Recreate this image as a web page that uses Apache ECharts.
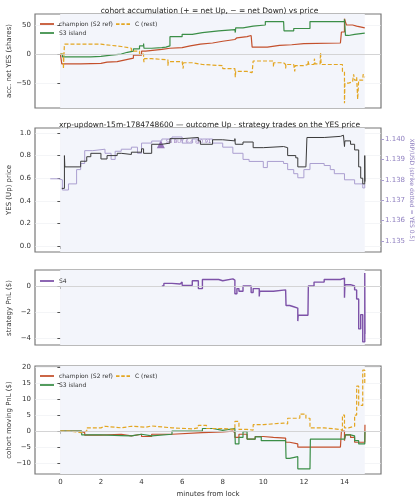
<!DOCTYPE html>
<html><head><meta charset="utf-8">
<script src="https://cdn.jsdelivr.net/npm/echarts@6/dist/echarts.min.js"></script>
<style>html,body{margin:0;padding:0;background:#fff}#c{width:419px;height:500px}</style>
</head><body><div id="c"></div>
<script>
// ---- data (x = minutes from lock) ----
const accChampion=[[0,0],[0.07,-17],[1,-16],[2,-14],[2.3,-13],[2.8,-10],[3.2,-7],[3.6,-2],[4.0,5],[4.2,8],[5,10],[5.4,11],[6,14],[6.4,17],[6.9,19],[7.5,22],[8,25],[8.6,28],[8.7,30],[9.2,32],[9.4,33],[9.45,12],[9.8,12],[10.2,15],[10.8,16],[11.4,18],[12,19],[13.8,19],[13.85,38],[14,61],[14.05,55],[14.1,50],[14.4,48],[14.6,45],[15,45]];
const accS3=[[0,0],[0.1,-5],[1.5,-4],[2,-2],[2.5,0],[3,3],[3.3,5],[3.6,9],[3.9,14],[4.1,18],[4.12,10],[4.5,11],[5,12],[5.2,14],[5.4,30],[6,34],[6.5,37],[7,40],[7.8,42],[8.6,44],[8.62,37],[8.64,45],[9,48],[9.5,50],[10.1,56],[11,56],[11.02,40],[11.5,44],[12.3,56],[14,56],[14.0,60],[14.05,32],[14.2,34],[14.5,36],[15,36]];
const accC=[[0,0],[0.15,-25],[0.2,17],[1.5,17],[2,15],[2.5,13],[3,10],[3.5,5],[3.9,0],[4.1,-8],[4.12,-14],[4.14,-8],[4.5,-10],[5.3,-12],[5.3,-20],[5.32,-13],[6,-15],[6.05,-25],[6.07,-15],[6.5,-18],[7,-20],[8,-25],[8.6,-28],[8.62,-40],[8.64,-30],[9.2,-32],[9.45,-32],[9.5,-12],[10.5,-15],[10.5,-22],[10.52,-15],[11,-18],[11.1,-25],[11.12,-18],[11.5,-20],[11.55,-30],[11.57,-20],[12,-18],[12.2,-12],[12.25,-18],[12.5,-17],[12.52,-8],[12.55,-17],[12.8,-17],[12.82,2],[12.85,-18],[13.8,-18],[13.9,-30],[14.0,-85],[14.02,-50],[14.2,-48],[14.4,-45],[14.45,-35],[14.5,-45],[14.6,-40],[14.65,-78],[14.7,-45],[14.9,-45],[14.92,-35],[15,-40]];
const yesPrice=[[0.07,0.51],[0.2,0.8],[0.22,0.7],[1.0,0.75],[1.3,0.79],[1.5,0.82],[2.0,0.77],[2.3,0.8],[2.8,0.82],[3.0,0.81],[3.5,0.83],[4.0,0.86],[4.1,0.82],[4.5,0.9],[5,0.91],[5.4,0.95],[6.0,0.96],[6.8,0.93],[6.9,0.9],[7.5,0.94],[8.0,0.93],[8.6,0.95],[8.62,0.9],[9,0.92],[9.5,0.87],[10,0.88],[11.0,0.87],[11.2,0.8],[11.6,0.78],[11.7,0.7],[12.1,0.7],[12.15,0.96],[13.0,0.97],[13.8,0.98],[13.95,0.97],[14.0,0.88],[14.02,0.93],[14.3,0.9],[14.5,0.85],[14.7,0.7],[14.8,0.6],[14.9,0.55],[15,0.8],[15.01,0.57]];
const xrpPrice=[[-0.5,1.13805],[-0.1,1.1380],[0.1,1.1375],[0.4,1.1378],[0.8,1.1385],[1.0,1.1388],[1.2,1.13943],[1.6,1.1395],[2.2,1.1393],[2.5,1.1390],[2.7,1.1394],[3.0,1.1395],[3.5,1.1396],[3.8,1.1393],[4.0,1.1398],[4.5,1.1399],[5.0,1.1400],[5.5,1.1401],[6.0,1.1398],[6.5,1.1400],[7.0,1.1400],[7.5,1.1398],[8.0,1.1396],[8.5,1.1393],[9.0,1.1390],[9.3,1.1389],[10.0,1.1386],[10.2,1.1389],[11.0,1.1388],[11.2,1.1385],[11.5,1.1383],[11.7,1.1381],[12.0,1.1385],[12.3,1.1388],[13.0,1.1387],[13.3,1.1385],[13.5,1.1383],[14.0,1.1380],[14.5,1.1378],[14.9,1.1376],[15.0,1.1378]];
const s4Trade=[[4.95,0.9]];
const s4Pnl=[[5.0,0],[5.1,0.2],[5.5,0.15],[5.9,0.3],[6.0,0.05],[6.5,0.4],[6.8,-0.2],[7.0,0.5],[7.8,0.4],[8.0,0.55],[8.5,0.45],[8.6,-0.6],[8.7,-0.2],[8.8,-0.4],[9.0,0],[9.4,-0.5],[9.5,-0.2],[9.8,-0.8],[9.82,-0.4],[10.5,-0.3],[11.1,-0.3],[11.12,-1.5],[11.3,-1.6],[11.5,-1.7],[11.7,-2.7],[11.72,-2.25],[12.2,-2.25],[12.22,0],[12.5,0.3],[13,0.5],[13.8,0.6],[14.0,-0.9],[14.02,0.1],[14.3,0],[14.5,-0.3],[14.6,-1],[14.7,-3.3],[14.8,-2.2],[14.9,-4.3],[15.0,1.0],[15.01,-3.7]];
const pnlChampion=[[0,0],[1.0,-0.5],[1.2,-1.3],[2.0,-1],[3,-1.5],[3.5,-1],[4,-1.7],[4.5,-1],[5.5,-0.5],[7,-0.3],[8,0],[8.5,-0.5],[8.6,-2],[8.8,-1],[9.2,-2.5],[9.6,-1.7],[10,-2],[10.5,-2.2],[11.1,-3.5],[11.3,-4],[11.7,-5],[13.8,-5],[13.85,0],[14.0,-3],[14.05,-1.2],[14.3,-2],[14.5,-3.5],[15,-3.5],[15.01,2]];
const pnlS3=[[0,0],[1.05,-1.2],[2,-1.4],[3,-1.5],[3.5,-1],[4,-1.5],[4.5,-1],[5.5,0],[7,0.8],[7.5,0.2],[8.0,0.8],[8.6,0],[8.62,-4],[8.8,-2],[9.0,-0.2],[9.2,-2.5],[9.6,-1.8],[9.9,-3],[11.1,-3],[11.12,-8.5],[11.3,-8],[11.7,-11.8],[12.3,-11.8],[12.32,-2.5],[14.0,-2.5],[14.05,-1.2],[14.3,-1.5],[14.5,-3],[14.7,-4],[15,-4],[15.01,0]];
const pnlC=[[0,0],[0.5,-0.5],[1,0],[1.3,1],[2,1.5],[2.2,1],[3,1.5],[3.5,1.2],[4.2,1.6],[4.5,1],[5.5,0.7],[6.5,1],[6.8,1.8],[7.2,0.8],[8.0,0.5],[8.6,3],[8.8,0.5],[9.2,0.3],[9.5,2],[10,2.5],[11,2.2],[11.2,4],[11.8,5.3],[12.1,4],[12.3,1],[13,0.5],[13.8,0.2],[13.9,5],[14.0,1],[14.2,1.5],[14.5,5],[14.6,14],[14.7,8],[14.9,19],[15,15]];
const xTicks=[0,2,4,6,8,10,12,14];
const tAcc=[-50,0,50], tYes=[0,0.2,0.4,0.6,0.8,1.0], tXrp=[1.135,1.136,1.137,1.138,1.139,1.140], tS4=[-4,-2,0], tPnl=[-10,-5,0,5,10,15,20];

const RED='#c4502c',GRN='#3b8e47',GOLD='#e3a622',PUR='#7d52a8',LPUR='#ab9fd0',BLK='#3a3a3a';
const F='DejaVu Sans';
const grids=[{top:14,height:94},{top:128,height:124},{top:270,height:75},{top:366,height:108}];
const yr=[[-93,69],[-0.053,1.044],[-4.54,1.23],[-13.4,20.3]];
const yt=[tAcc,tYes,tS4,tPnl];
const ynames=['acc. net YES (shares)','YES (Up) price','strategy PnL ($)','cohort moving PnL ($)'];
const grid=grids.map(g=>({left:35,right:38,top:g.top,height:g.height,show:true,borderColor:'#777',borderWidth:1.2,backgroundColor:'#fff',outerBoundsMode:'none',containLabel:false}));
const xAxis=grids.map((g,i)=>({type:'value',gridIndex:i,min:-1.25,max:15.8,
  axisLine:{show:false},axisTick:{show:true,customValues:xTicks,length:3,lineStyle:{color:'#555'}},
  axisLabel:{show:i===3,customValues:xTicks,fontSize:7,color:'#333',fontFamily:F,margin:5},
  splitLine:{show:true,lineStyle:{color:'#eceef2',width:0.6}},
  name:i===3?'minutes from lock':'',nameLocation:'middle',nameGap:17,nameTextStyle:{fontSize:7,color:'#333',fontFamily:F}}));
const yAxis=grids.map((g,i)=>({type:'value',gridIndex:i,min:yr[i][0],max:yr[i][1],
  axisLine:{show:false},axisTick:{show:true,customValues:yt[i],length:3,lineStyle:{color:'#555'}},
  axisLabel:{customValues:yt[i],fontSize:7,color:'#333',fontFamily:F,margin:4,formatter:v=>(i===1?v.toFixed(1):String(v)).replace('-','−')},
  splitLine:{show:true,lineStyle:{color:'#eceef2',width:0.6}}}));
yAxis.push({type:'value',gridIndex:1,position:'right',min:1.13446,max:1.14054,
  axisLine:{show:false},axisTick:{show:true,customValues:tXrp,length:3,lineStyle:{color:LPUR}},
  axisLabel:{customValues:tXrp,fontSize:7,color:'#9080c0',fontFamily:F,margin:4,formatter:v=>v.toFixed(3)},
  splitLine:{show:false}});
const nameY=[61,190,308,420];
const graphic=ynames.map((t,i)=>({type:'text',x:9,y:nameY[i],rotation:Math.PI/2,
  style:{text:t,fontSize:7,fill:'#333',fontFamily:F,align:'center',verticalAlign:'middle'}}));
graphic.push({type:'text',x:412,y:190,rotation:-Math.PI/2,style:{text:'XRP/USD (strike dotted = YES 0.5)',fontSize:6,fill:'#9080c0',fontFamily:F,align:'center',verticalAlign:'middle'}});
const shade=i=>({silent:true,itemStyle:{color:'#f3f5fb'},data:[[{xAxis:0},{xAxis:15}]]});
const zero={silent:true,symbol:'none',label:{show:false},lineStyle:{color:'#ccc',width:0.8,type:'solid'},data:[{yAxis:0}]};
function line(name,data,color,xi,yi,dash,w,extra){return Object.assign({type:'line',name,data,xAxisIndex:xi,yAxisIndex:yi,step:'end',showSymbol:false,symbol:'none',animation:false,
  lineStyle:{color,width:w||1.2,type:dash?[4,2]:'solid'},itemStyle:{color}},extra||{});}
const series=[
  line('champion (S2 ref)',accChampion,RED,0,0,false,1.2,{markArea:shade(0),markLine:zero}),
  line('S3 island',accS3,GRN,0,0),
  line('C (rest)',accC,GOLD,0,0,true),
  line('XRP',xrpPrice,LPUR,1,4,false,1,{markArea:shade(1),markLine:{silent:true,symbol:'none',label:{show:false},lineStyle:{color:'#aaa',width:0.8,type:[1,2]},data:[{yAxis:0.5}]}}),
  line('YES',yesPrice,BLK,1,1,false,1),
  {type:'scatter',data:s4Trade,xAxisIndex:1,yAxisIndex:1,symbol:'triangle',symbolSize:8,itemStyle:{color:PUR},animation:false,
    label:{show:true,position:'right',formatter:'S4 BUY 6.4 @0.91',fontSize:5,color:PUR,distance:1,fontFamily:F,offset:[0,-3]}},
  line('S4',s4Pnl,PUR,2,2,false,1.4,{markArea:shade(2),markLine:zero}),
  line('champion (S2 ref)',pnlChampion,RED,3,3,false,1.2,{markArea:shade(3),markLine:zero}),
  line('S3 island',pnlS3,GRN,3,3,false,1.2),
  line('C (rest)',pnlC,GOLD,3,3,true)
];
const SOLID='path://M0,0h16v2h-16z', DASH='path://M0,0h4v2h-4z M6,0h4v2h-4z M12,0h4v2h-4z';
const lg=(top,left,name,icon)=>({top,left,data:[{name,icon}],orient:'horizontal',itemWidth:14,itemHeight:2,itemGap:6,selectedMode:false,
  textStyle:{fontSize:6,color:'#333',fontFamily:F},padding:0});
const chart=echarts.init(document.getElementById('c'),null,{renderer:'canvas'});
chart.setOption({animation:false,graphic,
  title:[{text:'cohort accumulation (+ = net Up, − = net Down) vs price',left:'center',top:2,textStyle:{fontSize:7.5,fontWeight:'normal',color:'#222',fontFamily:F}},
         {text:'xrp-updown-15m-1784748600 — outcome Up · strategy trades on the YES price',left:'center',top:116,textStyle:{fontSize:7.5,fontWeight:'normal',color:'#222',fontFamily:F}}],
  legend:[lg(21,40,'champion (S2 ref)',SOLID),lg(21,116,'C (rest)',DASH),lg(30,40,'S3 island',SOLID),lg(278,40,'S4',SOLID),
          lg(373,40,'champion (S2 ref)',SOLID),lg(373,116,'C (rest)',DASH),lg(382,40,'S3 island',SOLID)],
  grid,xAxis,yAxis,series});
</script></body></html>
